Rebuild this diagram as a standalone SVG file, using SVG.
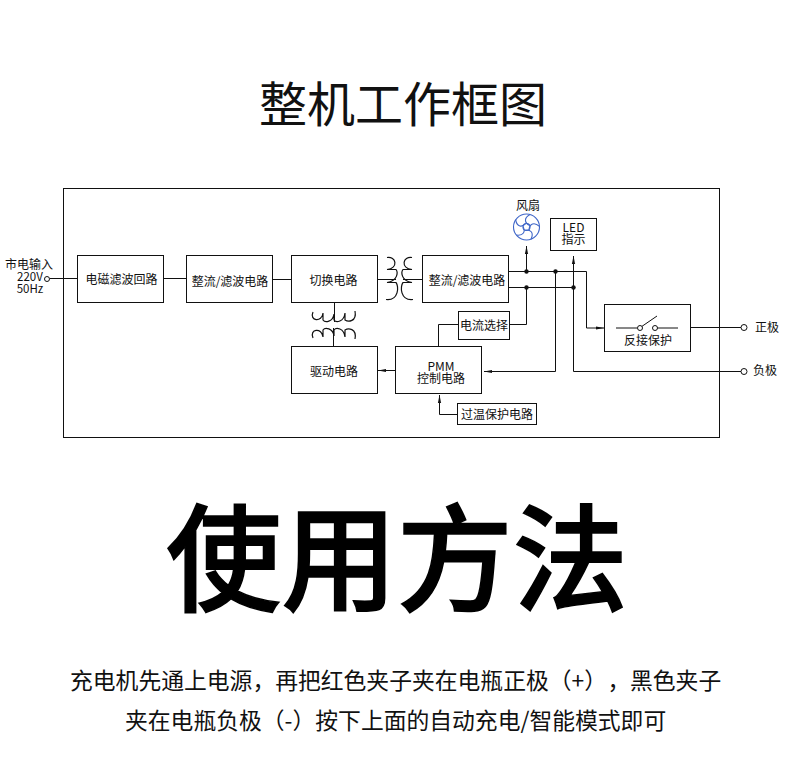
<svg xmlns="http://www.w3.org/2000/svg" width="790" height="772" viewBox="0 0 790 772">
<defs>
<style>
text{font-family:"Noto Sans CJK SC","Noto Sans",sans-serif;fill:#111;text-anchor:middle}
.t{font-size:12px}
.b{fill:#fff;stroke:#111;stroke-width:1}
.l{fill:none;stroke:#111;stroke-width:1}
.c{fill:none;stroke:#111;stroke-width:1.200}
.d{fill:#111}
.o{fill:#fff;stroke:#111;stroke-width:1}
.s{text-anchor:start}
</style>
<marker id="a" markerWidth="8" markerHeight="6" refX="6" refY="2" orient="auto" markerUnits="userSpaceOnUse" viewBox="0 0 6 4"><path d="M0 0.8L6 2L0 3.2Z" fill="#111"/></marker>
<path id="blade" d="M3.200 -1.600C-2 -4 -3 -9 3.500 -12.500"/>
</defs>
<rect width="790" height="772" fill="#fff"/>
<text id="title" x="403" y="122" style="font-size:48px;font-weight:400">整机工作框图</text>
<rect id="frame" class="l" x="63.500" y="188.500" width="656" height="249"/>
<g id="connectors">
<path class="l" d="M50 278.500H77.500M163.500 278.500H186.500M272.500 279.500H291.500M377.500 279.500H396M403 279.500H422.500"/>
<path class="l" d="M334.500 302V322M333.500 328V346.500"/>
<path class="l" d="M508.500 271.500H586.500V328H604" marker-end="url(#a)"/>
<path class="l" d="M508.500 287.500H573.500V371.500H741"/>
<path class="l" d="M526.500 271.500V246" marker-end="url(#a)"/>
<path class="l" d="M573.500 287.500V256" marker-end="url(#a)"/>
<path class="l" d="M555.500 271.500V371.500H484" marker-end="url(#a)"/>
<path class="l" d="M526.500 287.500V324.500H509.500M458.500 324.500H438.500V346.500"/>
<path class="l" d="M395.500 370.500H378" marker-end="url(#a)"/>
<path class="l" d="M457.500 414.500H439.500V395" marker-end="url(#a)"/>
<path class="l" d="M690.500 327.500H741"/>
<circle class="d" cx="526.500" cy="271.500" r="2.200"/>
<circle class="d" cx="555.500" cy="271.500" r="2.200"/>
<circle class="d" cx="526.500" cy="287.500" r="2.200"/>
<circle class="d" cx="573.500" cy="287.500" r="2.200"/>
</g>
<g id="coils">
<path class="c" d="M387 257.500C396 256 399 268 387 269.500H396C398 272 398 281 387 282.500H396C399 286 399 301 386 299.500"/>
<path class="c" d="M412 257.500C403 256 400 268 412 269.500H403C401 272 401 281 412 282.500H403C400 286 400 301 413 299.500"/>
<path class="c" d="M313 312C309 321 322 323 323 313V320C325 323 333 322 334 314V320C336 323 344 322 345 313V320C348 322 357 322 355 311"/>
<path class="c" d="M313 338C309 329 322 327 323 337V330C325 327 333 328 334 336V330C336 327 344 328 345 337V330C348 328 357 328 355 339"/>
</g>
<g id="input"><text class="t" x="29" y="269">市电输入</text><text class="t" x="30" y="281" style="font-size:11.500px">220V</text><text class="t" x="30" y="293" style="font-size:11.500px">50Hz</text><circle class="o" cx="47" cy="279" r="2.500"/></g>
<g id="n1"><rect class="b" x="77.500" y="255.500" width="86" height="47"/><text class="t" x="121.500" y="284">电磁滤波回路</text></g>
<g id="n2"><rect class="b" x="186.500" y="255.500" width="86" height="47"/><text class="t" x="230" y="286">整流/滤波电路</text></g>
<g id="n3"><rect class="b" x="291.500" y="255.500" width="86" height="47"/><text class="t" x="333.500" y="285">切换电路</text></g>
<g id="n4"><rect class="b" x="422.500" y="255.500" width="86" height="47"/><text class="t" x="467" y="285">整流/滤波电路</text></g>
<g id="n5"><rect class="b" x="291.500" y="346.500" width="86" height="47"/><text class="t" x="334" y="376">驱动电路</text></g>
<g id="n6"><rect class="b" x="395.500" y="346.500" width="86" height="47"/><text class="t" x="441" y="371">PMM</text><text class="t" x="441" y="383">控制电路</text></g>
<g id="n7"><rect class="b" x="458.500" y="311.500" width="51" height="28"/><text class="t" x="484" y="330">电流选择</text></g>
<g id="n8"><rect class="b" x="457.500" y="403.500" width="79" height="21"/><text class="t" x="497" y="419">过温保护电路</text></g>
<g id="n9"><rect class="b" x="550.500" y="218.500" width="46" height="32"/><text class="t" x="573.500" y="232">LED</text><text class="t" x="573.500" y="244">指示</text></g>
<g id="n10"><rect class="b" x="604.500" y="304.500" width="86" height="47"/><text class="t" x="648" y="345">反接保护</text>
<path class="l" d="M616 328H637M655 328H678M641 327L657 316"/><circle class="o" cx="640" cy="328" r="2.500"/><circle class="o" cx="655" cy="328" r="2.500"/></g>
<g id="fan"><text class="t" x="528" y="210">风扇</text>
<g fill="none" stroke="#3f66c8" stroke-width="1.100"><circle cx="526.500" cy="227" r="13"/><circle cx="526.500" cy="227" r="3.500"/>
<use href="#blade" transform="translate(526.500 227)"/><use href="#blade" transform="translate(526.500 227) rotate(72)"/><use href="#blade" transform="translate(526.500 227) rotate(144)"/><use href="#blade" transform="translate(526.500 227) rotate(216)"/><use href="#blade" transform="translate(526.500 227) rotate(288)"/></g></g>
<g id="pos"><circle class="o" cx="744" cy="327.500" r="3"/><text class="t" x="767" y="332">正极</text></g>
<g id="neg"><circle class="o" cx="744" cy="371.500" r="3"/><text class="t" x="765" y="375">负极</text></g>
<text id="h2" x="397" y="602" style="font-size:115.500px;font-weight:500;fill:#000;stroke:#000;stroke-width:1.500px">使用方法</text>
<g id="body" style="font-size:22.800px;font-weight:400"><text class="s" y="689"><tspan x="70">充电机先通上电源，再把红色夹子夹在电瓶正极（+）</tspan><tspan x="607.500">，</tspan><tspan x="630">黑色夹子</tspan></text><text class="s" x="125" y="729">夹在电瓶负极（-）按下上面的自动充电/智能模式即可</text></g>
</svg>
